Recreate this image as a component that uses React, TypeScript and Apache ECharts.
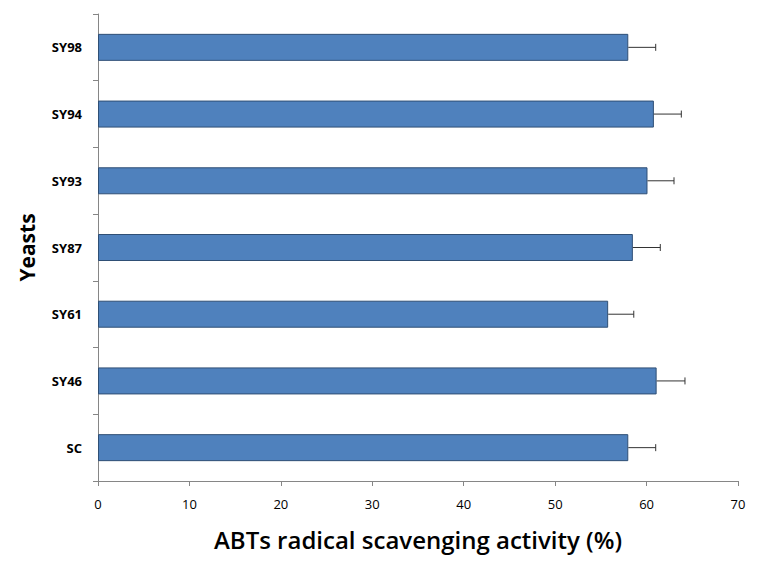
import React, { useEffect, useRef } from "react";
import * as echarts from "echarts";

const categories = ["SC", "SY46", "SY61", "SY87", "SY93", "SY94", "SY98"];
const values = [58.0, 61.1, 55.8, 58.5, 60.1, 60.8, 58.0];
const errors = [3.0, 3.1, 2.8, 3.0, 2.9, 3.0, 3.0];
const xTicks = { min: 0, max: 70, interval: 10 };

export default function App() {
  const ref = useRef<HTMLDivElement>(null);
  useEffect(() => {
    const chart = echarts.init(ref.current!, undefined, { renderer: "svg" });
    const font = "'Open Sans', 'Noto Sans', sans-serif";
    chart.setOption({
      animation: false,
      grid: { left: 84, right: 14, top: 6, bottom: 77 },
      xAxis: {
        type: "value",
        min: xTicks.min,
        max: xTicks.max,
        interval: xTicks.interval,
        splitLine: { show: false },
        axisLine: { show: true, lineStyle: { color: "#868686" } },
        axisTick: { show: true, length: 5, lineStyle: { color: "#868686" } },
        axisLabel: { color: "#000", fontSize: 13, fontFamily: font, margin: 16 },
        name: "ABTs radical scavenging activity (%)",
        nameLocation: "middle",
        nameGap: 46,
        nameTextStyle: { color: "#000", fontSize: 24, fontFamily: font, fontWeight: 600 },
      },
      yAxis: {
        type: "category",
        data: categories,
        axisLine: { show: true, lineStyle: { color: "#868686" } },
        axisTick: { show: true, length: 5, lineStyle: { color: "#868686" } },
        axisLabel: { color: "#000", fontSize: 13, fontWeight: "bold", fontFamily: font, margin: 16 },
        name: "Yeasts",
        nameLocation: "middle",
        nameGap: 61,
        nameRotate: 90,
        nameTextStyle: { color: "#000", fontSize: 21, fontWeight: "bold", fontFamily: font },
      },
      series: [
        {
          type: "bar",
          data: values,
          barWidth: 27,
          itemStyle: { color: "#4F81BD", borderColor: "#2F4F75", borderWidth: 1 },
        },
        {
          type: "custom",
          data: values.map((v, i) => [v, i, errors[i]]),
          renderItem: (params: any, api: any) => {
            const v = api.value(0);
            const idx = api.value(1);
            const e = api.value(2);
            const p0 = api.coord([v, idx]);
            const p1 = api.coord([v + e, idx]);
            const style = { stroke: "#333", lineWidth: 1 };
            return {
              type: "group",
              children: [
                { type: "line", shape: { x1: p0[0], y1: p0[1], x2: p1[0], y2: p1[1] }, style },
                { type: "line", shape: { x1: p1[0], y1: p1[1] - 3.5, x2: p1[0], y2: p1[1] + 3.5 }, style },
              ],
            };
          },
          z: 5,
        },
      ],
    });
    return () => chart.dispose();
  }, []);
  return <div ref={ref} style={{ width: 744, height: 550 }} />;
}
